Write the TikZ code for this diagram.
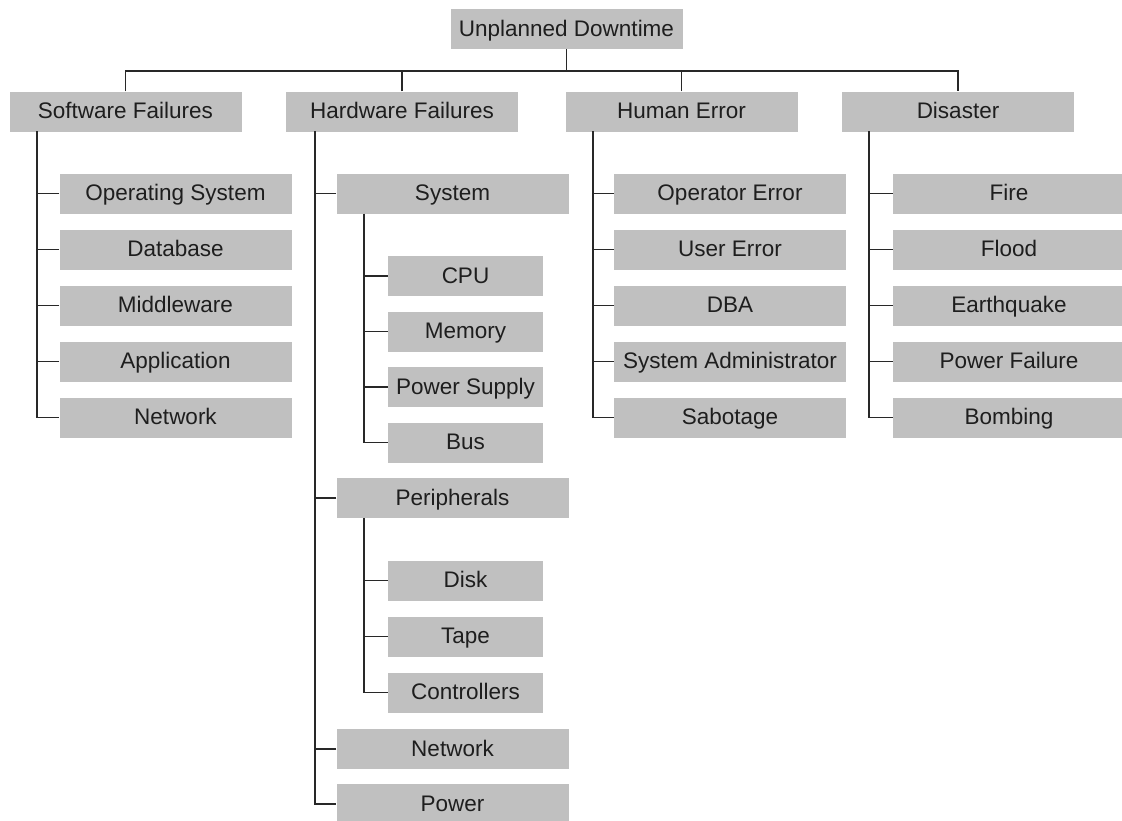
\documentclass[tikz,border=0pt]{standalone}
\usepackage{fontspec}
\setmainfont{Liberation Sans}
\definecolor{boxgray}{RGB}{192,192,192}
\definecolor{linec}{RGB}{40,40,40}
\definecolor{txt}{RGB}{30,30,30}
\begin{document}
\begin{tikzpicture}[x=1pt,y=-1pt,
  box/.style={fill=boxgray, draw=none, minimum width=232pt, minimum height=40pt,
              inner sep=0pt, text height=18pt, text depth=4pt,
              font=\fontsize{22.5}{26}\selectfont, text=txt},
  subbox/.style={box, minimum width=155pt},
  link/.style={draw=linec, line width=1.4pt}]
\useasboundingbox (0,0) rectangle (1122,820);
\clip (0,0) rectangle (1122,820);

% root and the four main categories
\node[box] (root) at (566.5,29) {Unplanned Downtime};
\node[box] (sw) at (125.5,111.5) {Software Failures};
\node[box] (hw) at (402,111.5) {Hardware Failures};
\node[box] (he) at (681.5,111.5) {Human Error};
\node[box] (di) at (958,111.5) {Disaster};

% software failures
\node[box] (swos)  at (175.5,193.5) {Operating System};
\node[box] (swdb)  at (175.5,249.5) {Database};
\node[box] (swmw)  at (175.5,305.5) {Middleware};
\node[box] (swapp) at (175.5,361.5) {Application};
\node[box] (swnet) at (175.5,417.5) {Network};

% hardware failures
\node[box] (hwsys) at (452.5,193.5) {System};
\node[subbox] (cpu) at (465.5,276) {CPU};
\node[subbox] (mem) at (465.5,331.5) {Memory};
\node[subbox] (psu) at (465.5,387) {Power Supply};
\node[subbox] (bus) at (465.5,442.5) {Bus};
\node[box] (hwper) at (452.5,498) {Peripherals};
\node[subbox] (disk) at (465.5,580.5) {Disk};
\node[subbox] (tape) at (465.5,636.5) {Tape};
\node[subbox] (ctrl) at (465.5,692.5) {Controllers};
\node[box] (hwnet) at (452.5,749) {Network};
\node[box] (hwpow) at (452.5,804) {Power};

% human error
\node[box] (heop)  at (730,193.5) {Operator Error};
\node[box] (heuse) at (730,249.5) {User Error};
\node[box] (hedba) at (730,305.5) {DBA};
\node[box] (hesys) at (730,361.5) {System Administrator};
\node[box] (hesab) at (730,417.5) {Sabotage};

% disaster
\node[box] (difire) at (1009,193.5) {Fire};
\node[box] (diflood) at (1009,249.5) {Flood};
\node[box] (diquake) at (1009,305.5) {Earthquake};
\node[box] (dipow) at (1009,361.5) {Power Failure};
\node[box] (dibomb) at (1009,417.5) {Bombing};

% top bar
\coordinate (bar) at (566.5,71);
\draw[link] (root.south) -- (bar);
\draw[link] (sw.north) -- (sw.north |- bar) -- (di.north |- bar) -- (di.north);
\draw[link] (hw.north) -- (hw.north |- bar);
\draw[link] (he.north) -- (he.north |- bar);

% spines
\coordinate (swsp) at (37,131);
\coordinate (hwsp) at (315,131);
\coordinate (syssp) at (364,213.5);
\coordinate (persp) at (364,518);
\coordinate (hesp) at (593,131);
\coordinate (disp) at (869,131);

\draw[link] (swsp) |- (swnet.west);
\foreach \n in {swos,swdb,swmw,swapp} \draw[link] (\n.west) -- (\n.west -| swsp);

\draw[link] (hwsp) |- (hwpow.west);
\foreach \n in {hwsys,hwper,hwnet} \draw[link] (\n.west) -- (\n.west -| hwsp);

\draw[link] (syssp) |- (bus.west);
\foreach \n in {cpu,mem,psu} \draw[link] (\n.west) -- (\n.west -| syssp);

\draw[link] (persp) |- (ctrl.west);
\foreach \n in {disk,tape} \draw[link] (\n.west) -- (\n.west -| persp);

\draw[link] (hesp) |- (hesab.west);
\foreach \n in {heop,heuse,hedba,hesys} \draw[link] (\n.west) -- (\n.west -| hesp);

\draw[link] (disp) |- (dibomb.west);
\foreach \n in {difire,diflood,diquake,dipow} \draw[link] (\n.west) -- (\n.west -| disp);
\end{tikzpicture}
\end{document}
